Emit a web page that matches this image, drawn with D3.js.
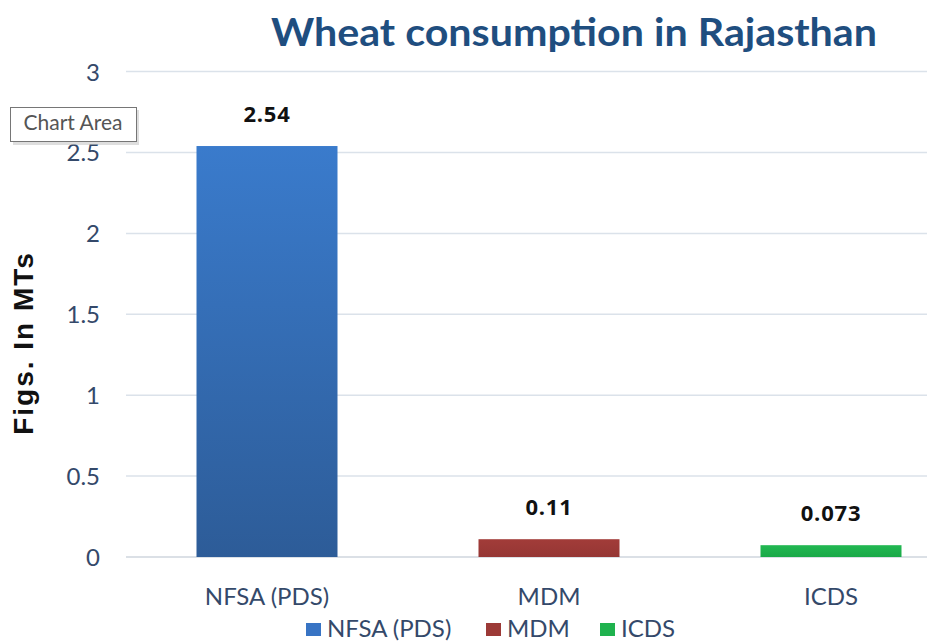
<!DOCTYPE html>
<html><head><meta charset="utf-8">
<script src="https://cdn.jsdelivr.net/npm/d3@7"></script>
<style>body{margin:0;background:#fff}svg{display:block}</style>
</head><body>
<svg id="c" width="927" height="641"></svg>
<script>
const categories = ["NFSA (PDS)", "MDM", "ICDS"];
const values = [2.54, 0.11, 0.073];
const valueLabels = ["2.54", "0.11", "0.073"];
const yTicks = [0, 0.5, 1, 1.5, 2, 2.5, 3];
const colors = ["#3874c4", "#9c3a37", "#1fb24e"];

const svg = d3.select("#c");
const font = "Lato, 'Open Sans', sans-serif";
const x = d3.scaleBand().domain(categories).range([126, 972]).paddingInner(0.5).paddingOuter(0.25);
const y = d3.scaleLinear().domain([0, 3]).range([557, 71.6]);

const defs = svg.append("defs");
const g0 = defs.append("linearGradient").attr("id", "gNFSA").attr("x1", 0).attr("y1", 0).attr("x2", 0).attr("y2", 1);
g0.append("stop").attr("offset", "0%").attr("stop-color", "#3a7bcc");
g0.append("stop").attr("offset", "100%").attr("stop-color", "#2d5c98");
const g1 = defs.append("linearGradient").attr("id", "gMDM").attr("x1", 0).attr("y1", 0).attr("x2", 0).attr("y2", 1);
g1.append("stop").attr("offset", "0%").attr("stop-color", "#a23c39");
g1.append("stop").attr("offset", "100%").attr("stop-color", "#953634");
const g2 = defs.append("linearGradient").attr("id", "gICDS").attr("x1", 0).attr("y1", 0).attr("x2", 0).attr("y2", 1);
g2.append("stop").attr("offset", "0%").attr("stop-color", "#22b852");
g2.append("stop").attr("offset", "100%").attr("stop-color", "#1aa948");
const fills = ["url(#gNFSA)", "url(#gMDM)", "url(#gICDS)"];

// title
svg.append("text").attr("x", 574).attr("y", 46).attr("text-anchor", "middle")
  .attr("font-family", font).attr("font-weight", "bold").attr("font-size", 39)
  .attr("textLength", 606).attr("lengthAdjust", "spacingAndGlyphs")
  .attr("fill", "#1f4e7f").text("Wheat consumption in Rajasthan");

// gridlines
svg.append("g").selectAll("line").data(yTicks).join("line")
  .attr("x1", 126).attr("x2", 927)
  .attr("y1", d => y(d)).attr("y2", d => y(d))
  .attr("stroke", d => d === 0 ? "#cfd6de" : "#dbe2ea").attr("stroke-width", 1.5);

// y tick labels
const yAxis = d3.axisLeft(y).tickValues(yTicks).tickSize(0).tickPadding(0).tickFormat(d3.format("~g"));
const ya = svg.append("g").attr("transform", "translate(100,0)").call(yAxis);
ya.select(".domain").remove();
ya.selectAll("text").attr("font-family", font).attr("font-size", 24).attr("fill", "#34496a").attr("dy", "0.35em");

// y axis title
svg.append("text").attr("transform", "translate(33,343) rotate(-90)").attr("text-anchor", "middle")
  .attr("font-family", "'Liberation Sans', Arial, sans-serif").attr("font-weight", "bold").attr("font-size", 28)
  .attr("letter-spacing", 2).attr("fill", "#111").text("Figs. In  MTs");

// bars
svg.append("g").selectAll("rect").data(values).join("rect")
  .attr("x", (d, i) => x(categories[i])).attr("width", x.bandwidth())
  .attr("y", d => y(d)).attr("height", d => y(0) - y(d))
  .attr("fill", (d, i) => fills[i]);

// value labels
svg.append("g").selectAll("text").data(values).join("text")
  .attr("x", (d, i) => x(categories[i]) + x.bandwidth() / 2)
  .attr("y", d => y(d) - 24).attr("text-anchor", "middle")
  .attr("font-family", "'Open Sans', 'Liberation Sans', sans-serif").attr("font-weight", "bold").attr("font-size", 22)
  .attr("letter-spacing", 0.8).attr("fill", "#111").text((d, i) => valueLabels[i]);

// x axis labels
const xAxis = d3.axisBottom(x).tickSize(0).tickPadding(0);
const xa = svg.append("g").attr("transform", "translate(0,597)").call(xAxis);
xa.select(".domain").remove();
xa.selectAll("text").attr("font-family", font).attr("font-size", 24).attr("fill", "#34496a").attr("dy", "0.35em");

// legend
const legX = [306, 486, 600];
const leg = svg.append("g").selectAll("g").data(categories).join("g")
  .attr("transform", (d, i) => `translate(${legX[i]},629)`);
leg.append("rect").attr("x", 0).attr("y", -6).attr("width", 15).attr("height", 13).attr("fill", (d, i) => colors[i]);
leg.append("text").attr("x", 21).attr("y", 0).attr("dy", "0.35em")
  .attr("font-family", font).attr("font-size", 24).attr("fill", "#34496a").text(d => d);

// "Chart Area" tooltip
const tip = svg.append("g");
tip.append("rect").attr("x", 13).attr("y", 110).attr("width", 126).attr("height", 35).attr("fill", "#c8c8c8").attr("opacity", 0.6);
tip.append("rect").attr("x", 10.5).attr("y", 107.5).attr("width", 126).attr("height", 34).attr("fill", "#fff").attr("stroke", "#767676");
tip.append("text").attr("x", 73).attr("y", 130)
  .attr("text-anchor", "middle")
  .attr("font-family", font).attr("font-size", 21).attr("fill", "#555").text("Chart Area");
</script>
</body></html>
